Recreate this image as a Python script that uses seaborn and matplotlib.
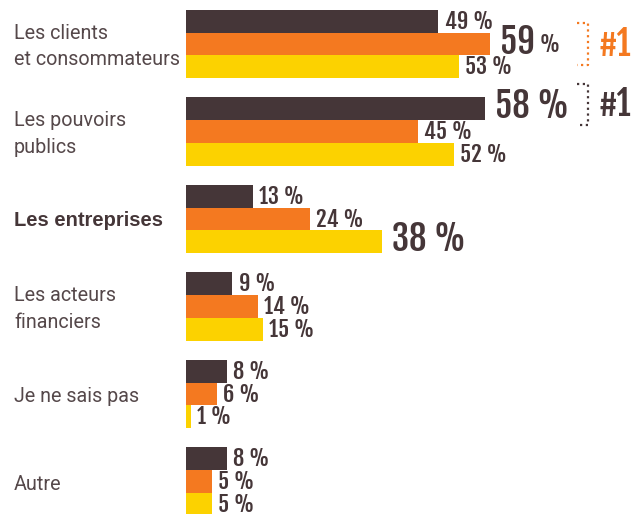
import matplotlib
matplotlib.use('Agg')
import matplotlib.pyplot as plt
import matplotlib.transforms as mtransforms
import pandas as pd
import seaborn as sns

sns.set_theme(style='white')
plt.rcParams['font.family'] = ['Roboto', 'Liberation Sans', 'DejaVu Sans']

# Data
categories = ['Les clients\net consommateurs', 'Les pouvoirs\npublics',
              'Les entreprises', 'Les acteurs\nfinanciers',
              'Je ne sais pas', 'Autre']
series = ['Série 1', 'Série 2', 'Série 3']
serie_1 = [49, 58, 13, 9, 8, 8]
serie_2 = [59, 45, 24, 14, 6, 5]
serie_3 = [53, 52, 38, 15, 1, 5]

# max of the first three groups gets the big label
big_labels = {(0, 1): 'small_pct', (1, 0): 'big', (2, 2): 'big'}
# "#1" rank marks: (category index, series index)
rank_marks = [(0, 1), (1, 0)]

colors = ['#453638', '#f47920', '#fcd200']
text_col = '#453638'
label_font = ['Fjalla One', 'Oswald', 'Roboto Condensed', 'DejaVu Sans']

df = pd.DataFrame({
    'categorie': categories * 3,
    'serie': [s for s in series for _ in categories],
    'valeur': serie_1 + serie_2 + serie_3,
})

fig = plt.figure(figsize=(6.36, 5.14), dpi=100)
ax = fig.add_axes([186 / 636, 0, 450 / 636, 1])

sns.barplot(
    data=df, y='categorie', x='valeur', hue='serie', orient='h',
    palette=colors, width=0.78, gap=0, saturation=1, legend=False,
    linewidth=0, ax=ax
)

ax.set_xlim(0, 450 / 5.15)
ax.set_ylim(5.37, -0.503)
ax.set_xlabel('')
ax.set_ylabel('')
ax.set_xticks([])
ax.set_yticks([])
sns.despine(ax=ax, left=True, bottom=True)

# value labels
for j, cont in enumerate(ax.containers):
    for i, bar in enumerate(cont):
        v = bar.get_width()
        yc = bar.get_y() + bar.get_height() / 2
        kind = big_labels.get((i, j))
        if kind == 'big':
            ax.text(v + 2.0, yc - 0.03, f'{v:.0f} %', fontsize=25,
                    fontweight='bold', family=label_font, color=text_col,
                    ha='left', va='center')
        elif kind == 'small_pct':
            t = ax.text(v + 2.0, yc - 0.02, f'{v:.0f}', fontsize=25,
                        fontweight='bold', family=label_font, color=text_col,
                        ha='left', va='center')
            ax.annotate(' %', xy=(1, 0.12), xycoords=t, fontsize=16,
                        fontweight='bold', family=label_font, color=text_col,
                        ha='left', va='bottom')
        else:
            ax.text(v + 1.2, yc, f'{v:.0f} %', fontsize=16,
                    fontweight='bold', family=label_font, color=text_col,
                    ha='left', va='center')

# "#1" marks with dotted brackets
tr = mtransforms.blended_transform_factory(ax.transAxes, ax.transData)
for i, j in rank_marks:
    bar = ax.containers[j][i]
    yc = bar.get_y() + bar.get_height() / 2
    if j == 0:
        yc -= 0.05
    c = colors[j]
    x0, x1 = (577 - 186) / 450, (588 - 186) / 450
    h = 0.235
    ax.plot([x0, x1, x1, x0], [yc - h, yc - h, yc + h, yc + h],
            transform=tr, color=c, lw=1.6, ls=(0, (1, 1.6)),
            clip_on=False)
    ax.text((599 - 186) / 450, yc, '#1', transform=tr, fontsize=25,
            fontweight='bold', family=label_font, color=c,
            ha='left', va='center')

# category labels on the left
trf = mtransforms.blended_transform_factory(fig.transFigure, ax.transData)
for i, cat in enumerate(categories):
    if cat == 'Les entreprises':
        ax.text(14 / 636, i + 0.02, cat, transform=trf, fontsize=14.5,
                color='#453638', ha='left', va='center', fontweight='bold',
                family=['Liberation Sans', 'DejaVu Sans'])
    else:
        ax.text(14 / 636, i + 0.03, cat, transform=trf, fontsize=14.2,
                color='#55484a', ha='left', va='center', linespacing=1.5,
                fontweight='normal')

fig.savefig('out.png', dpi=100, facecolor='white')
